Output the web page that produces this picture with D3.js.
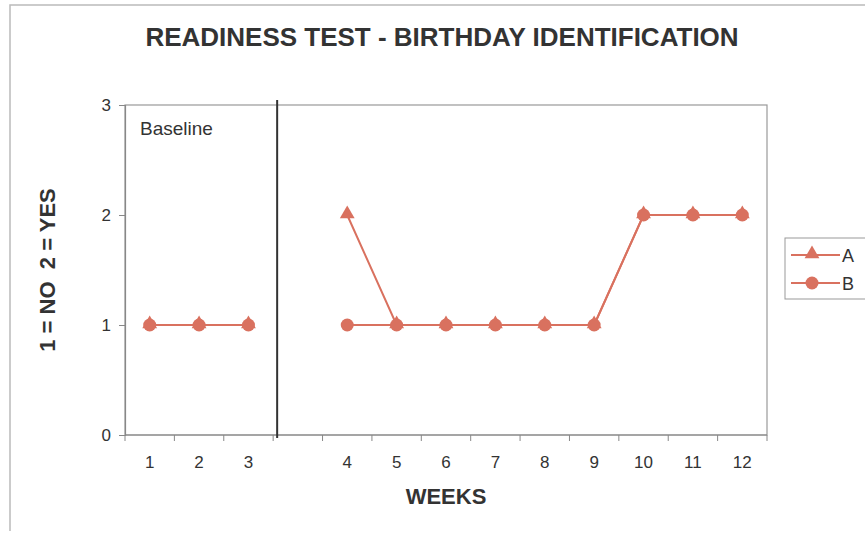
<!DOCTYPE html>
<html>
<head>
<meta charset="utf-8">
<script src="https://cdn.jsdelivr.net/npm/d3@7"></script>
<style>
  body { margin: 0; background: #fff; }
  text { font-family: "Liberation Sans", Arial, sans-serif; fill: #333; }
</style>
</head>
<body>
<div class="chart"></div>
<script>
// categories (blank slot marks the phase change gap)
var weeks = ['1', '2', '3', ' ', '4', '5', '6', '7', '8', '9', '10', '11', '12'];
var seriesA = [1, 1, 1, null, 2, 1, 1, 1, 1, 1, 2, 2, 2];
var seriesB = [1, 1, 1, null, 1, 1, 1, 1, 1, 1, 2, 2, 2];
var yTicks = [0, 1, 2, 3];

var width = 865, height = 534;
var margin = {top: 105, right: 98, bottom: 99, left: 125};
var color = '#d9715f';

var svg = d3.select('.chart')
  .append('svg')
  .attr('width', width)
  .attr('height', height);

// outer chart border
svg.append('path')
  .attr('d', 'M10,531 L10,5 L865,5')
  .attr('fill', 'none')
  .attr('stroke', '#bbb')
  .attr('stroke-width', 1.5);

var xScale = d3.scaleBand()
  .domain(weeks)
  .range([margin.left, width - margin.right]);

var yScale = d3.scaleLinear()
  .domain([0, 3])
  .range([height - margin.bottom, margin.top]);

// plot area frame
svg.append('rect')
  .attr('x', margin.left)
  .attr('y', margin.top)
  .attr('width', width - margin.left - margin.right)
  .attr('height', height - margin.top - margin.bottom)
  .attr('fill', 'none')
  .attr('stroke', '#999')
  .attr('stroke-width', 1.2);

// x axis: ticks on category boundaries
var xAxis = svg.append('g')
  .attr('transform', 'translate(0,' + (height - margin.bottom) + ')');
xAxis.append('line')
  .attr('x1', margin.left).attr('x2', width - margin.right)
  .attr('stroke', '#888').attr('stroke-width', 1.2);
var bounds = weeks.map(function(w) { return xScale(w); }).concat([width - margin.right]);
xAxis.selectAll('.tk')
  .data(bounds)
  .enter().append('line')
  .attr('x1', function(d) { return d; })
  .attr('x2', function(d) { return d; })
  .attr('y1', 0).attr('y2', 6)
  .attr('stroke', '#888');
xAxis.selectAll('.lbl')
  .data(weeks)
  .enter().append('text')
  .attr('x', function(d) { return xScale(d) + xScale.bandwidth() / 2; })
  .attr('y', 33)
  .attr('text-anchor', 'middle')
  .style('font-size', '17px')
  .text(function(d) { return d; });

// y axis
var yAxis = d3.axisLeft(yScale).tickValues(yTicks).tickSize(6).tickPadding(8).tickFormat(d3.format('d'));
svg.append('g')
  .attr('transform', 'translate(' + margin.left + ',0)')
  .call(yAxis)
  .call(function(g) {
    g.select('.domain').attr('stroke', '#888').attr('stroke-width', 1.2);
    g.selectAll('.tick line').attr('stroke', '#888');
    g.selectAll('.tick text').style('font-size', '17px')
      .style('font-family', '"Liberation Sans", Arial, sans-serif').attr('fill', '#333');
  });

// phase change line
var phaseX = xScale(' ') + 4;
svg.append('line')
  .attr('x1', phaseX).attr('x2', phaseX)
  .attr('y1', margin.top - 5).attr('y2', height - margin.bottom + 3)
  .attr('stroke', '#333').attr('stroke-width', 2);

svg.append('text')
  .attr('x', 140).attr('y', 135)
  .style('font-size', '19px')
  .text('Baseline');

// series lines
var cx = function(i) { return xScale(weeks[i]) + xScale.bandwidth() / 2; };
var line = d3.line()
  .defined(function(d) { return d != null; })
  .x(function(d, i) { return cx(i); })
  .y(function(d) { return yScale(d); });

[seriesA, seriesB].forEach(function(s) {
  svg.append('path')
    .datum(s)
    .attr('d', line)
    .attr('fill', 'none')
    .attr('stroke', color)
    .attr('stroke-width', 2);
});

var tri = d3.symbol().type(d3.symbolTriangle).size(95);

svg.selectAll('.markA')
  .data(seriesA.map(function(v, i) { return {v: v, i: i}; }).filter(function(d) { return d.v != null; }))
  .enter().append('path')
  .attr('d', tri)
  .attr('transform', function(d) { return 'translate(' + cx(d.i) + ',' + (yScale(d.v) - 1) + ')'; })
  .attr('fill', color);

svg.selectAll('.markB')
  .data(seriesB.map(function(v, i) { return {v: v, i: i}; }).filter(function(d) { return d.v != null; }))
  .enter().append('circle')
  .attr('cx', function(d) { return cx(d.i); })
  .attr('cy', function(d) { return yScale(d.v); })
  .attr('r', 6.5)
  .attr('fill', color);

// titles
svg.append('text')
  .attr('x', 442).attr('y', 46)
  .attr('text-anchor', 'middle')
  .style('font-size', '26px').style('font-weight', 'bold')
  .text('READINESS TEST - BIRTHDAY IDENTIFICATION');

svg.append('text')
  .attr('x', 446).attr('y', 504)
  .attr('text-anchor', 'middle')
  .style('font-size', '22px').style('font-weight', 'bold')
  .text('WEEKS');

svg.append('text')
  .attr('transform', 'translate(55,270) rotate(-90)')
  .attr('text-anchor', 'middle')
  .style('font-size', '22px').style('font-weight', 'bold')
  .style('white-space', 'pre')
  .text('1 = NO  2 = YES');

// legend
var legend = svg.append('g').attr('transform', 'translate(785,238)');
legend.append('rect')
  .attr('width', 90).attr('height', 61)
  .attr('fill', '#fff').attr('stroke', '#999');
var legendItems = [{name: 'A', shape: 'tri'}, {name: 'B', shape: 'circle'}];
legendItems.forEach(function(d, i) {
  var y = 17 + i * 28;
  legend.append('line')
    .attr('x1', 6).attr('x2', 55).attr('y1', y).attr('y2', y)
    .attr('stroke', color).attr('stroke-width', 2);
  if (d.shape === 'tri') {
    legend.append('path').attr('d', tri).attr('transform', 'translate(27,' + (y - 1) + ')').attr('fill', color);
  } else {
    legend.append('circle').attr('cx', 27).attr('cy', y).attr('r', 6.5).attr('fill', color);
  }
  legend.append('text')
    .attr('x', 57).attr('y', y + 7)
    .style('font-size', '18px')
    .text(d.name);
});
</script>
</body>
</html>
